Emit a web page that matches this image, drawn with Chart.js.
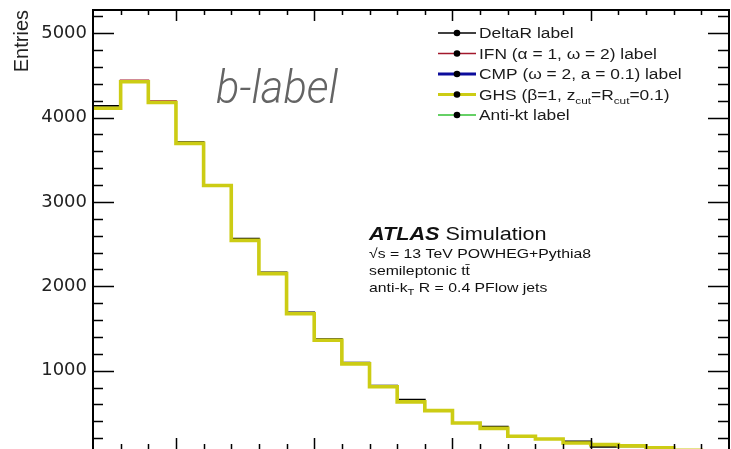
<!DOCTYPE html>
<html><head><meta charset="utf-8">
<script src="https://cdn.jsdelivr.net/npm/chart.js@4.4.1/dist/chart.umd.min.js"></script>
<style>
html,body{margin:0;padding:0;width:731px;height:449px;overflow:hidden;background:#fff;}
#wrap{position:relative;width:731px;height:480px;}
canvas{display:block;}
</style></head><body>
<div id="wrap"><canvas id="c" width="731" height="480"></canvas></div>
<script>
// ---- data ----
const binEdges = [0,1,2,3,4,5,6,7,8,9,10,11,12,13,14,15,16,17,18,19,20,21,22,23];
const deltaR = [4140,4430,4185,3708,3198,2565,2166,1692,1375,1095,822,656,526,378,336,222,190,162,98,104,80,55,35];
const ifn    = [4112,4440,4195,3696,3196,2546,2150,1676,1360,1080,810,630,526,380,316,222,190,142,123,108,84,55,38];
const cmp    = [4112,4425,4180,3695,3195,2545,2150,1675,1360,1080,810,630,526,380,316,222,190,142,123,108,84,55,38];
const ghs    = [4112,4425,4180,3695,3195,2545,2150,1675,1360,1080,810,630,526,380,316,222,190,142,123,108,84,55,38];
const antikt = [4110,4424,4181,3694,3196,2545,2151,1674,1361,1080,811,630,525,380,316,222,190,141,123,108,84,55,38];
const yTickValues = [1000,2000,3000,4000,5000];
const xMajorTicks = [3,8,13,18];
const seriesNames = ["DeltaR label","IFN (α = 1, ω = 2) label","CMP (ω = 2, a = 0.1) label","GHS (β=1, z_cut=R_cut=0.1)","Anti-kt label"];

const colors = {deltaR:'#000000', ifn:'#a3182c', cmp:'#0c0c9c', ghs:'#cccc14', antikt:'#33c133'};

function histPoints(vals){
  const pts = vals.map((v,i)=>({x:binEdges[i], y:v}));
  pts.push({x:binEdges[vals.length], y:vals[vals.length-1]});
  return pts;
}
function ds(label, vals, color, width, order){
  return {label, data:histPoints(vals), borderColor:color, borderWidth:width, pointRadius:0,
          fill:false, stepped:'before', tension:0, order, borderJoinStyle:'miter', borderCapStyle:'butt'};
}

function sText(ctx, str, x, y, font, sx){
  ctx.save(); ctx.font = font; ctx.translate(x, y); ctx.scale(sx, 1);
  ctx.fillText(str, 0, 0); const w = ctx.measureText(str).width * sx; ctx.restore(); return w;
}

const decor = {
  id:'decor',
  afterDraw(chart){
    const ctx = chart.ctx, a = chart.chartArea, xs = chart.scales.x, ys = chart.scales.y;
    ctx.save();
    // frame
    ctx.strokeStyle = '#000'; ctx.lineWidth = 2;
    ctx.strokeRect(a.left, a.top, a.right - a.left, a.bottom - a.top);
    // x ticks (bottom & top)
    ctx.lineWidth = 1.5;
    ctx.beginPath();
    for (let i = 1; i < binEdges.length - 1; i++){
      const e = binEdges[i], px = Math.round(xs.getPixelForValue(e)) + 0.5;
      const major = xMajorTicks.includes(e);
      ctx.moveTo(px, a.bottom); ctx.lineTo(px, a.bottom - (major ? 17 : 11));
      ctx.moveTo(px, a.top); ctx.lineTo(px, a.top + (major ? 11 : 5));
    }
    // y ticks (left & right)
    for (let v = 200; v < ys.max; v += 200){
      const py = Math.round(ys.getPixelForValue(v)) + 0.5;
      const major = v % 1000 === 0;
      ctx.moveTo(a.left, py); ctx.lineTo(a.left + (major ? 21 : 10), py);
      ctx.moveTo(a.right, py); ctx.lineTo(a.right - (major ? 21 : 11), py);
    }
    ctx.stroke();

    // y title
    ctx.fillStyle = '#222';
    ctx.save(); ctx.translate(28, a.top); ctx.rotate(-Math.PI/2);
    ctx.font = '20px "Liberation Sans", Arial, sans-serif'; ctx.textAlign = 'right'; ctx.textBaseline = 'alphabetic';
    ctx.fillText('Entries', 0, 0); ctx.restore();

    // b-label
    ctx.save(); ctx.fillStyle = '#646464';
    ctx.font = 'italic 300 47px Roboto, "Liberation Sans", sans-serif';
    const bw = ctx.measureText('b-label').width;
    ctx.translate(216, 103); ctx.scale(122 / bw, 1); ctx.fillText('b-label', 0, 0);
    ctx.restore();

    // legend
    const legFont = '14px "Liberation Sans", Arial, sans-serif';
    const subFont = '9.5px "Liberation Sans", Arial, sans-serif';
    const lsx = 1.24;
    const rows = [
      {c:colors.deltaR, w:1.5}, {c:colors.ifn, w:1.5}, {c:colors.cmp, w:3}, {c:colors.ghs, w:3}, {c:colors.antikt, w:1.5}
    ];
    const x0 = 438, x1 = 476, tx = 479;
    rows.forEach((r, i) => {
      const cy = 33 + 20.5 * i;
      ctx.strokeStyle = r.c; ctx.lineWidth = r.w;
      ctx.beginPath(); ctx.moveTo(x0, cy); ctx.lineTo(x1, cy); ctx.stroke();
      ctx.fillStyle = '#000'; ctx.beginPath(); ctx.arc((x0 + x1) / 2, cy, 3.3, 0, Math.PI * 2); ctx.fill();
      ctx.fillStyle = '#1a1a1a';
      const by = cy + 5;
      if (i === 3){
        let x = tx;
        x += sText(ctx, 'GHS (β=1, z', x, by, legFont, lsx);
        x += sText(ctx, 'cut', x, by + 4, subFont, lsx);
        x += sText(ctx, '=R', x, by, legFont, lsx);
        x += sText(ctx, 'cut', x, by + 4, subFont, lsx);
        sText(ctx, '=0.1)', x, by, legFont, lsx);
      } else {
        sText(ctx, seriesNames[i], tx, by, legFont, lsx);
      }
    });

    // ATLAS block
    const asx = 1.17;
    ctx.fillStyle = '#111';
    let ax = 369;
    ax += sText(ctx, 'ATLAS', ax, 240, 'italic bold 18.5px "Liberation Sans", Arial, sans-serif', asx);
    sText(ctx, ' Simulation', ax, 240, '18.5px "Liberation Sans", Arial, sans-serif', asx);
    const f2 = '13.5px "Liberation Sans", Arial, sans-serif';
    sText(ctx, '√s = 13 TeV POWHEG+Pythia8', 369, 258, f2, asx);
    sText(ctx, 'semileptonic tt\u0304', 369, 275, f2, asx);
    let kx = 369;
    kx += sText(ctx, 'anti-k', kx, 292, f2, asx);
    kx += sText(ctx, 'T', kx, 295, '9.5px "Liberation Sans", Arial, sans-serif', asx);
    sText(ctx, ' R = 0.4 PFlow jets', kx, 292, f2, asx);
    ctx.restore();
  }
};

new Chart(document.getElementById('c'), {
  type:'line',
  data:{ datasets:[
    ds(seriesNames[0], deltaR, colors.deltaR, 1.8, 2),
    ds(seriesNames[1], ifn, colors.ifn, 1.8, 1),
    ds(seriesNames[2], cmp, colors.cmp, 2, 3),
    ds(seriesNames[3], ghs, colors.ghs, 3.6, 0),
    ds(seriesNames[4], antikt, colors.antikt, 1.5, 4)
  ]},
  options:{
    responsive:false, animation:false, devicePixelRatio:1,
    layout:{padding:{top:10, right:2, bottom:25, left:0}},
    plugins:{legend:{display:false}, tooltip:{enabled:false}},
    scales:{
      x:{type:'linear', min:0, max:23, display:false},
      y:{type:'linear', min:0, max:5276,
         afterBuildTicks(s){ s.ticks = yTickValues.map(v => ({value:v})); },
         afterFit(s){ s.width = 93; s.paddingTop = 0; s.paddingBottom = 0; },
         grid:{display:false, drawTicks:false}, border:{display:false},
         ticks:{font:{family:'"DejaVu Sans"', size:18}, color:'#222', padding:6,
                callback:(v) => String(v)}}
    }
  },
  plugins:[decor]
});
</script>
</body></html>
